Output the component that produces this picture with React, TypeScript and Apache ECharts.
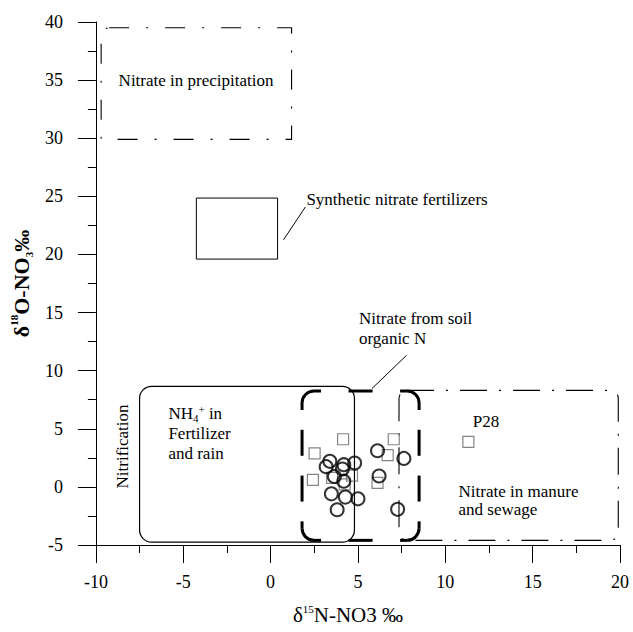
import React, { useEffect, useRef } from "react";
import * as echarts from "echarts";

// ---- data ----
const squareX = [4.15, 2.52, 2.42, 3.52, 4.66, 4.24, 7.05, 6.7, 6.12, 11.32];
const squareY = [4.1, 2.88, 0.6, 0.77, 0.97, 0.21, 4.1, 2.74, 0.34, 3.88];

const circleX = [3.39, 3.18, 4.19, 4.81, 3.65, 4.11, 4.19, 3.48, 4.28, 5.0, 3.81, 6.12, 7.63, 6.21, 7.27];
const circleY = [2.2, 1.74, 1.91, 2.05, 0.89, 1.54, 0.49, -0.6, -0.88, -1.03, -1.97, 3.11, 2.45, 0.94, -1.93];

// boxes: [xMin, yMin, xMax, yMax]
const precipitationBox = [-9.7, 29.9, 1.2, 39.5];
const syntheticBox = [-4.25, 19.6, 0.4, 24.85];
const ammoniumBox = [-7.5, -4.75, 4.8, 8.65];
const soilBox = [1.8, -4.6, 8.5, 8.25];
const manureBox = [7.35, -4.6, 19.9, 8.3];

const syntheticLeader = [[0.74, 21.26], [1.99, 24.08]];
const soilLeader = [[5.8, 8.46], [7.78, 11.32]];

const labelText = [
  "Nitrate in precipitation",
  "Synthetic nitrate fertilizers",
  "Nitrate from soil\norganic N",
  "NH{sub|4}{sup|+} in\nFertilizer\nand rain",
  "Nitrification",
  "P28",
  "Nitrate in manure\nand sewage",
];
const labelX = [-8.7, 2.05, 5.06, -5.85, -8.5, 11.57, 10.76];
const labelY = [35.0, 24.76, 13.64, 4.63, 3.48, 5.59, -1.18];

const xMin = -10, xMax = 20, xStep = 5;
const yMin = -5, yMax = 40, yStep = 5;

// ---- styling ----
const FAMILY = "Liberation Serif, Times New Roman, serif";
const labelAlign = ["left", "left", "left", "left", "center", "left", "left"];
const labelRotation = [0, 0, 0, 0, Math.PI / 2, 0, 0];
const labelLineHeight = [20, 20, 20, 20, 20, 20, 18.5];

function boxSeries(box: number[], r: any, lineWidth: number, lineDash: any, z: number) {
  return {
    type: "custom",
    silent: true,
    z,
    data: [box],
    encode: { x: [0, 2], y: [1, 3] },
    renderItem: (params: any, api: any) => {
      const p1 = api.coord([api.value(0), api.value(3)]);
      const p2 = api.coord([api.value(2), api.value(1)]);
      return {
        type: "rect",
        shape: { x: p1[0], y: p1[1], width: p2[0] - p1[0], height: p2[1] - p1[1], r },
        style: { fill: "none", stroke: "#000", lineWidth, lineDash },
      };
    },
  };
}

function soilSeries(box: number[]) {
  return {
    type: "custom",
    silent: true,
    z: 3,
    data: [box],
    encode: { x: [0, 2], y: [1, 3] },
    renderItem: (params: any, api: any) => {
      const tl = api.coord([api.value(0), api.value(3)]);
      const br = api.coord([api.value(2), api.value(1)]);
      const L = tl[0], T = tl[1], R = br[0], B = br[1];
      const r = 12, e = 7;
      const st = { stroke: "#000", lineWidth: 3, fill: "none" };
      const ch: any[] = [];
      const ln = (x1: number, y1: number, x2: number, y2: number) =>
        ch.push({ type: "line", shape: { x1, y1, x2, y2 }, style: st });
      const arc = (cx: number, cy: number, a0: number, a1: number) =>
        ch.push({ type: "arc", shape: { cx, cy, r, startAngle: a0, endAngle: a1, clockwise: true }, style: st });
      arc(L + r, T + r, Math.PI, 1.5 * Math.PI);
      ln(L, T + r, L, T + r + e); ln(L + r, T, L + r + e, T);
      arc(R - r, T + r, 1.5 * Math.PI, 2 * Math.PI);
      ln(R - r - e, T, R - r, T); ln(R, T + r, R, T + r + e);
      arc(R - r, B - r, 0, 0.5 * Math.PI);
      ln(R, B - r - e, R, B - r); ln(R - r - e, B, R - r, B);
      arc(L + r, B - r, 0.5 * Math.PI, Math.PI);
      ln(L + r, B, L + r + e, B); ln(L, B - r - e, L, B - r);
      const cx = (L + R) / 2, d = 24;
      ln(cx - d / 2, T, cx + d / 2, T);
      ln(cx - d / 2, B, cx + d / 2, B);
      const s0 = T + r + e, s1 = B - r - e, dv = 26;
      const g = (s1 - s0 - 2 * dv) / 3;
      [L, R].forEach((x) => {
        ln(x, s0 + g, x, s0 + g + dv);
        ln(x, s0 + 2 * g + dv, x, s0 + 2 * g + 2 * dv);
      });
      return { type: "group", children: ch };
    },
  };
}

export default function App() {
  const ref = useRef<HTMLDivElement>(null);
  useEffect(() => {
    document.body.style.margin = "0";
    const chart = echarts.init(ref.current!, null, { renderer: "svg" });
    const axisCommon = {
      type: "value",
      splitLine: { show: false },
      axisLine: { show: true, onZero: false, lineStyle: { color: "#000", width: 1 } },
      axisTick: { show: true, length: 18, lineStyle: { color: "#000", width: 1 } },
      minorTick: { show: true, splitNumber: 2, length: 8, lineStyle: { color: "#000", width: 1 } },
      axisLabel: { color: "#000", fontFamily: FAMILY, fontSize: 18 },
    };
    chart.setOption({
      animation: false,
      backgroundColor: "#fff",
      textStyle: { fontFamily: FAMILY },
      grid: { left: 92, right: 13, top: 22, bottom: 84 },
      xAxis: {
        ...axisCommon,
        min: xMin,
        max: xMax,
        interval: xStep,
        axisLabel: { ...axisCommon.axisLabel, margin: 28 },
        name: "δ{sup|15}N-NO3 ‰",
        nameLocation: "middle",
        nameGap: 58,
        nameTextStyle: {
          color: "#000",
          fontFamily: FAMILY,
          fontSize: 21,
          lineHeight: 24,
          padding: [0, 20, 0, 0],
          rich: {
            sup: { fontFamily: FAMILY, fontSize: 11, lineHeight: 12, verticalAlign: "top", color: "#000" },
          },
        },
      },
      yAxis: {
        ...axisCommon,
        min: yMin,
        max: yMax,
        interval: yStep,
        axisLabel: { ...axisCommon.axisLabel, margin: 33 },
        name: "δ{sup|18}O-NO{sub|3}‰",
        nameLocation: "middle",
        nameRotate: 90,
        nameGap: 57,
        nameTextStyle: {
          color: "#000",
          fontFamily: FAMILY,
          fontSize: 22,
          fontWeight: "bold",
          lineHeight: 26,
          rich: {
            sup: { fontFamily: FAMILY, fontSize: 11, fontWeight: "bold", lineHeight: 12, verticalAlign: "top", color: "#000" },
            sub: { fontFamily: FAMILY, fontSize: 11, fontWeight: "bold", lineHeight: 10, verticalAlign: "bottom", color: "#000" },
          },
        },
      },
      series: [
        boxSeries(precipitationBox, [8, 0, 0, 0], 1.1, [20, 17, 2, 17], 2),
        boxSeries(syntheticBox, 0, 1, null, 2),
        boxSeries(ammoniumBox, 12, 1.2, null, 2),
        boxSeries(manureBox, 8, 1.1, [27, 12, 2, 12], 2),
        soilSeries(soilBox),
        {
          type: "line",
          data: syntheticLeader,
          symbol: "none",
          silent: true,
          lineStyle: { color: "#000", width: 1 },
          z: 3,
        },
        {
          type: "line",
          data: soilLeader,
          symbol: "none",
          silent: true,
          lineStyle: { color: "#000", width: 1 },
          z: 3,
        },
        {
          type: "scatter",
          data: squareX.map((x, i) => [x, squareY[i]]),
          symbol: "rect",
          symbolSize: 11,
          itemStyle: { color: "rgba(0,0,0,0)", borderColor: "#666", borderWidth: 1.2 },
          z: 4,
        },
        {
          type: "scatter",
          data: circleX.map((x, i) => [x, circleY[i]]),
          symbol: "circle",
          symbolSize: 13,
          itemStyle: { color: "rgba(0,0,0,0)", borderColor: "#000", borderWidth: 2 },
          z: 5,
        },
        {
          type: "custom",
          silent: true,
          z: 6,
          data: labelX.map((x, i) => [x, labelY[i], i]),
          renderItem: (params: any, api: any) => {
            const p = api.coord([api.value(0), api.value(1)]);
            const i = api.value(2);
            return {
              type: "text",
              x: p[0],
              y: p[1],
              rotation: labelRotation[i],
              style: {
                text: labelText[i],
                fill: "#000",
                font: "17px " + FAMILY,
                fontFamily: FAMILY,
                fontSize: 17,
                lineHeight: labelLineHeight[i],
                align: labelAlign[i],
                verticalAlign: "middle",
                rich: {
                  sub: { fontFamily: FAMILY, fontSize: 11, lineHeight: 10, verticalAlign: "bottom", fill: "#000" },
                  sup: { fontFamily: FAMILY, fontSize: 11, lineHeight: 10, verticalAlign: "top", fill: "#000" },
                },
              },
            };
          },
        },
      ],
    });
    return () => chart.dispose();
  }, []);
  return <div ref={ref} style={{ width: 633, height: 632 }} />;
}
